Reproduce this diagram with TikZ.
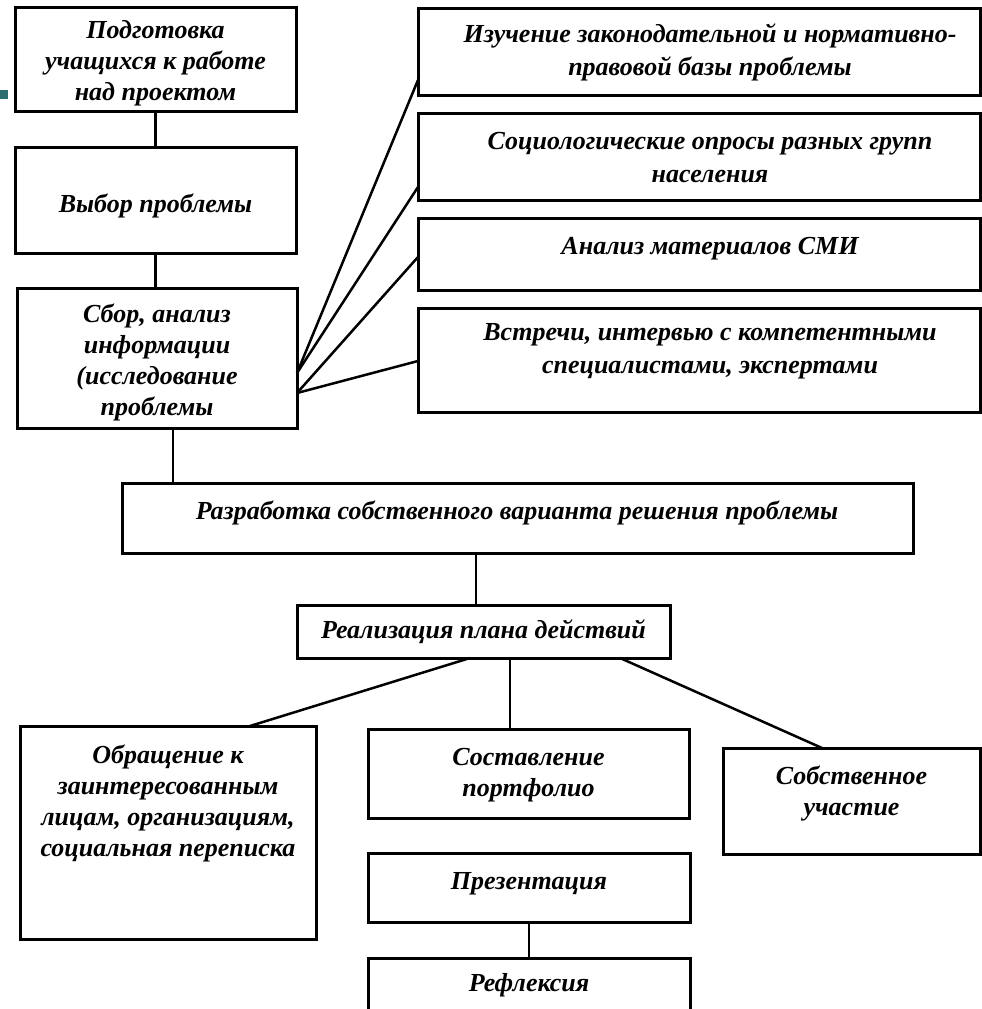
\documentclass[tikz,border=0pt]{standalone}
\usepackage{fontspec}
\setmainfont{Liberation Serif}
\begin{document}
\begin{tikzpicture}[x=1pt,y=-1pt,
  box/.style={draw=black, line width=3pt, rectangle, inner sep=0pt, outer sep=0pt, fill=white},
  txt/.style={font=\fontsize{26}{31}\selectfont\bfseries\itshape, align=center, inner sep=0pt},
  rtxt/.style={font=\fontsize{26}{33}\selectfont\bfseries\itshape, align=center, inner sep=0pt},
  conn/.style={draw=black, line width=2.5pt}]
\useasboundingbox[fill=white] (0,0) rectangle (982,1009);
\fill[fill={rgb,255:red,47;green,110;blue,112}] (0,90) rectangle (8,99);
% boxes
\node[box, minimum width=281pt, minimum height=104pt] (b1) at (155.5,59) {};
\node[box, minimum width=281pt, minimum height=106pt] (b2) at (155.5,200) {};
\node[box, minimum width=280pt, minimum height=140pt] (b3) at (157,358) {};
\node[box, minimum width=562pt, minimum height=87pt] (r1) at (699,51.5) {};
\node[box, minimum width=562pt, minimum height=87pt] (r2) at (699,156.5) {};
\node[box, minimum width=562pt, minimum height=72pt] (r3) at (699,254) {};
\node[box, minimum width=562pt, minimum height=104pt] (r4) at (699,360) {};
\node[box, minimum width=791pt, minimum height=70pt] (b4) at (517.5,518) {};
\node[box, minimum width=373pt, minimum height=53pt] (b5) at (483.5,631.5) {};
\node[box, minimum width=296pt, minimum height=213pt] (b6) at (168,832.5) {};
\node[box, minimum width=321pt, minimum height=89pt] (b7) at (528.5,773.5) {};
\node[box, minimum width=257pt, minimum height=106pt] (b8) at (851.5,801) {};
\node[box, minimum width=322pt, minimum height=69pt] (b9) at (529,887.5) {};
\node[box, minimum width=322pt, minimum height=82pt] (b10) at (529,999) {};
% texts
\node[txt] (t1) at (155.5,63) {Подготовка\\учащихся к работе\\над проектом};
\node[txt] (t2) at (155.5,206) {Выбор проблемы};
\node[txt] (t3) at (157,362) {Сбор, анализ\\информации\\(исследование\\проблемы};
\node[rtxt] (tr1) at (710,52) {Изучение законодательной и нормативно-\\правовой базы проблемы};
\node[rtxt] (tr2) at (710,158) {Социологические опросы разных групп\\населения};
\node[rtxt] (tr3) at (710,249) {Анализ материалов СМИ};
\node[rtxt] (tr4) at (710,351) {Встречи, интервью с компетентными\\специалистами, экспертами};
\node[txt] (t4) at (517,513) {Разработка собственного варианта решения проблемы};
\node[txt] (t5) at (483.5,632) {Реализация плана действий};
\node[txt] (t6) at (168,803) {Обращение к\\заинтересованным\\лицам, организациям,\\социальная переписка};
\node[txt] (t7) at (528.5,775) {Составление\\портфолио};
\node[txt] (t8) at (851.5,793) {Собственное\\участие};
\node[txt] (t9) at (529,884) {Презентация};
\node[txt] (t10) at (529,985) {Рефлексия};
% connectors
\draw[conn] (b1.south) -- (b1.south |- b2.north);
\draw[conn] (b2.south) -- (b2.south |- b3.north);
\draw[conn] ([xshift=16pt]b3.south) -- ([xshift=16pt]b3.south |- b4.north);
\draw[conn] ([yshift=-15pt]b3.east) -- ([yshift=-28.5pt]r1.west);
\draw[conn] ([yshift=-15pt]b3.east) -- ([yshift=-30.5pt]r2.west);
\draw[conn] ([yshift=-35pt]b3.east) -- ([yshift=-3pt]r3.west);
\draw[conn] ([yshift=-35pt]b3.east) -- ([yshift=-1pt]r4.west);
\draw[conn] ([xshift=-41.5pt]b4.south) -- ([xshift=-41.5pt]b4.south |- b5.north);
\draw[conn] ([xshift=-13.5pt]b5.south) -- ([xshift=82pt]b6.north);
\draw[conn] ([xshift=26.5pt]b5.south) -- ([xshift=26.5pt]b5.south |- b7.north);
\draw[conn] ([xshift=136.5pt]b5.south) -- ([xshift=-29.5pt]b8.north);
\draw[conn] (b9.south) -- (b9.south |- b10.north);
\end{tikzpicture}
\end{document}
